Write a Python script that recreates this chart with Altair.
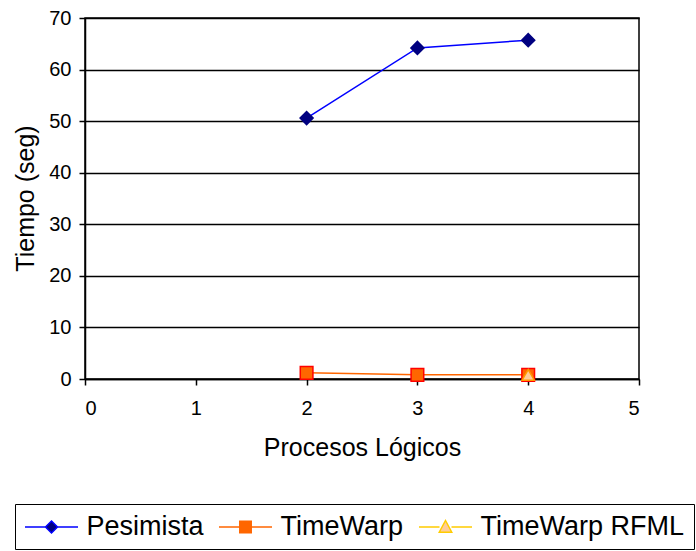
import altair as alt
import pandas as pd

# Series names and measurements (tiempo en segundos por número de procesos lógicos)
series = ["Pesimista", "TimeWarp", "TimeWarp RFML"]
procesos_pesimista = [2, 3, 4]
tiempo_pesimista = [50.6, 64.2, 65.7]
procesos_timewarp = [2, 3, 4]
tiempo_timewarp = [1.2, 0.8, 0.8]
procesos_rfml = [4]
tiempo_rfml = [0.8]

x_ticks = [0, 1, 2, 3, 4, 5]
y_ticks = [0, 10, 20, 30, 40, 50, 60, 70]

# Colours: line colour, marker fill, marker outline
line_colors = ["#0000FF", "#FF6600", "#FFCC00"]
marker_fill = ["#000080", "#FF6600", "#FFCC99"]
marker_stroke = ["#000080", "#FF0000", "#FF9900"]
marker_shapes = ["diamond", "square", "triangle-up"]
marker_sizes = [170, 150, 150]

# Legend symbols: a short line with the marker in the middle.
# Symbol box is 26px (unit = 13px); the line runs +-53/2 px.
legend_shapes = [
    "M-2.04,0H-0.46M0.46,0H2.04M0,-0.46L0.46,0L0,0.46L-0.46,0Z",
    "M-2.04,0H-0.44M0.44,0H2.04M-0.44,-0.44H0.44V0.44H-0.44Z",
    "M-2.04,0H-0.46M0.46,0H2.04M0,-0.5L0.48,0.4H-0.48Z",
]

rows = []
for name, xs, ys in [
    (series[0], procesos_pesimista, tiempo_pesimista),
    (series[1], procesos_timewarp, tiempo_timewarp),
    (series[2], procesos_rfml, tiempo_rfml),
]:
    for xv, yv in zip(xs, ys):
        rows.append({"serie": name, "procesos": xv, "tiempo": yv})
df = pd.DataFrame(rows)

FONT = "Liberation Sans"

x_enc = alt.X(
    "procesos:Q",
    scale=alt.Scale(domain=[0, 5], nice=False),
    axis=alt.Axis(
        title="Procesos Lógicos",
        values=x_ticks,
        format="d",
        grid=False,
        tickSize=6,
        labelPadding=13,
        labelFontSize=20,
        titleFontSize=25,
        titleFontWeight="normal",
        titlePadding=17,
        domainColor="black",
        tickColor="black",
        labelColor="black",
        titleColor="black",
        domainWidth=1.5,
        tickWidth=1.5,
    ),
)
y_enc = alt.Y(
    "tiempo:Q",
    scale=alt.Scale(domain=[0, 70], nice=False),
    axis=alt.Axis(
        title="Tiempo (seg)",
        values=y_ticks,
        grid=True,
        gridColor="black",
        gridWidth=1.3,
        gridOpacity=1,
        tickSize=6,
        labelPadding=8,
        labelFontSize=20,
        titleFontSize=25,
        titleFontWeight="normal",
        titleX=-60,
        titleY=180,
        titleAlign="center",
        titleBaseline="middle",
        domainColor="black",
        tickColor="black",
        labelColor="black",
        titleColor="black",
        domainWidth=1.5,
        tickWidth=1.5,
    ),
)

lines = alt.Chart(df).mark_line(strokeWidth=1.5).encode(
    x=x_enc,
    y=y_enc,
    color=alt.Color(
        "serie:N",
        scale=alt.Scale(domain=series, range=line_colors),
        legend=None,
    ),
)

points = alt.Chart(df).mark_point(filled=True, opacity=1, strokeWidth=1.5).encode(
    x="procesos:Q",
    y="tiempo:Q",
    shape=alt.Shape("serie:N", scale=alt.Scale(domain=series, range=marker_shapes), legend=None),
    fill=alt.Fill("serie:N", scale=alt.Scale(domain=series, range=marker_fill), legend=None),
    stroke=alt.Stroke("serie:N", scale=alt.Scale(domain=series, range=marker_stroke), legend=None),
    size=alt.Size("serie:N", scale=alt.Scale(domain=series, range=marker_sizes), legend=None),
)

legend_cfg = alt.Legend(
    title=None,
    orient="none",
    legendX=-70,
    legendY=486,
    direction="horizontal",
    strokeColor="black",
    padding=9,
    labelFontSize=27,
    labelFont=FONT,
    labelColor="black",
    labelLimit=400,
    symbolOffset=13.5,
    labelOffset=21,
    columnPadding=11,
    symbolSize=676,
    symbolStrokeWidth=1.5,
    symbolOpacity=1,
)

legend_layer = alt.Chart(df).transform_filter("false").mark_point(
    filled=True, opacity=1, strokeWidth=1.5
).encode(
    x="procesos:Q",
    y="tiempo:Q",
    shape=alt.Shape("serie:N", scale=alt.Scale(domain=series, range=legend_shapes), legend=legend_cfg),
    fill=alt.Fill("serie:N", scale=alt.Scale(domain=series, range=marker_fill), legend=legend_cfg),
    stroke=alt.Stroke("serie:N", scale=alt.Scale(domain=series, range=line_colors), legend=legend_cfg),
)

chart = (
    alt.layer(lines, points, legend_layer)
    .resolve_scale(shape="independent", fill="independent", stroke="independent", size="independent")
    .properties(
        width=554,
        height=361,
        autosize=alt.AutoSizeParams(type="none"),
        padding={"left": 85, "top": 18, "right": 57, "bottom": 172},
    )
    .configure(font=FONT)
    .configure_view(stroke="black", strokeWidth=1.5)
)

chart.save("out.html", embed_options={"renderer": "svg", "actions": False})
